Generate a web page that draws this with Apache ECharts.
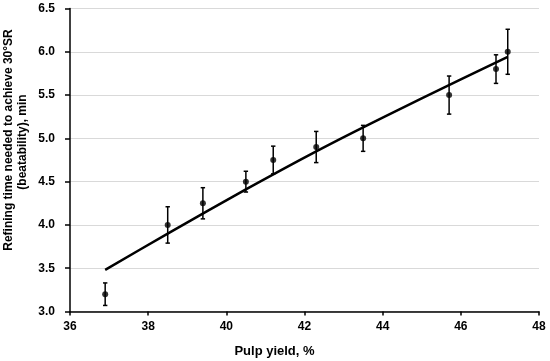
<!DOCTYPE html>
<html>
<head>
<meta charset="utf-8">
<script src="https://cdn.jsdelivr.net/npm/echarts@6/dist/echarts.min.js"></script>
<style>
html,body{margin:0;padding:0;background:#fff;}
#chart{width:550px;height:361px;}
</style>
</head>
<body>
<div id="chart"></div>
<script>
// Measured points: pulp yield (%) vs refining time (min)
var pulpYield = [36.9, 38.5, 39.4, 40.5, 41.2, 42.3, 43.5, 45.7, 46.9, 47.2];
var refiningTime = [3.2, 4.0, 4.25, 4.5, 4.75, 4.9, 5.0, 5.5, 5.8, 6.0];
var errorHalf = [0.13, 0.21, 0.18, 0.12, 0.16, 0.18, 0.15, 0.22, 0.165, 0.26];
// Trend line
var trendX = [36.9, 38.5, 40.5, 42.3, 44.0, 46.0, 47.2];
var trendY = [3.48, 3.90, 4.41, 4.85, 5.24, 5.68, 5.94];
// Axis ticks
var xTicks = [36, 38, 40, 42, 44, 46, 48];
var yTicks = [3.0, 3.5, 4.0, 4.5, 5.0, 5.5, 6.0, 6.5];

var FONT = '"Liberation Sans", Arial, sans-serif';

var pointData = pulpYield.map(function (x, i) { return [x, refiningTime[i]]; });
var errData = pulpYield.map(function (x, i) {
  return [x, refiningTime[i] - errorHalf[i], refiningTime[i] + errorHalf[i]];
});
var trendData = trendX.map(function (x, i) { return [x, trendY[i]]; });

var chart = echarts.init(document.getElementById('chart'), null, {renderer: 'canvas'});
chart.setOption({
  animation: false,
  backgroundColor: '#fff',
  grid: {left: 70, right: 11, top: 8.5, bottom: 49.5, containLabel: false},
  xAxis: {
    type: 'value',
    min: xTicks[0], max: xTicks[xTicks.length - 1], interval: 2,
    axisLine: {show: true, lineStyle: {color: '#000', width: 1.5}},
    axisTick: {show: true, inside: false, length: 4, lineStyle: {color: '#000', width: 1.5}},
    axisLabel: {color: '#000', fontFamily: FONT, fontWeight: 'bold', fontSize: 12, margin: 9},
    splitLine: {show: false}
  },
  yAxis: {
    type: 'value',
    min: yTicks[0], max: yTicks[yTicks.length - 1], interval: 0.5,
    axisLine: {show: true, lineStyle: {color: '#000', width: 1.5}},
    axisTick: {show: true, inside: false, length: 5, lineStyle: {color: '#000', width: 1.5}},
    axisLabel: {color: '#000', fontFamily: FONT, fontWeight: 'bold', fontSize: 12, margin: 15,
      formatter: function (v) { return v.toFixed(1); }},
    splitLine: {show: true, lineStyle: {color: '#d9d9d9', width: 1.2}}
  },
  graphic: [
    {type: 'text', x: 274.5, y: 351, style: {text: 'Pulp yield, %', fontFamily: FONT, fontWeight: 'bold', fontSize: 13, fill: '#000', align: 'center', verticalAlign: 'middle'}},
    {type: 'text', x: 8.5, y: 140, rotation: Math.PI / 2, style: {text: 'Refining time needed to achieve 30°SR', fontFamily: FONT, fontWeight: 'bold', fontSize: 12, fill: '#000', align: 'center', verticalAlign: 'middle'}},
    {type: 'text', x: 22.5, y: 142, rotation: Math.PI / 2, style: {text: '(beatability), min', fontFamily: FONT, fontWeight: 'bold', fontSize: 12, fill: '#000', align: 'center', verticalAlign: 'middle'}}
  ],
  series: [
    {
      type: 'line',
      data: trendData,
      showSymbol: false,
      smooth: 0.3,
      lineStyle: {color: '#000', width: 2.5},
      z: 2
    },
    {
      type: 'custom',
      data: errData,
      renderItem: function (params, api) {
        var x = api.value(0);
        var top = api.coord([x, api.value(2)]);
        var bot = api.coord([x, api.value(1)]);
        var w = 2.2;
        var st = {stroke: '#000', lineWidth: 1.5};
        return {
          type: 'group',
          children: [
            {type: 'line', shape: {x1: top[0], y1: top[1], x2: bot[0], y2: bot[1]}, style: st},
            {type: 'line', shape: {x1: top[0] - w, y1: top[1], x2: top[0] + w, y2: top[1]}, style: st},
            {type: 'line', shape: {x1: bot[0] - w, y1: bot[1], x2: bot[0] + w, y2: bot[1]}, style: st}
          ]
        };
      },
      z: 3
    },
    {
      type: 'scatter',
      data: pointData,
      symbol: 'circle',
      symbolSize: 6,
      itemStyle: {color: '#000'},
      z: 4
    }
  ]
});
</script>
</body>
</html>
